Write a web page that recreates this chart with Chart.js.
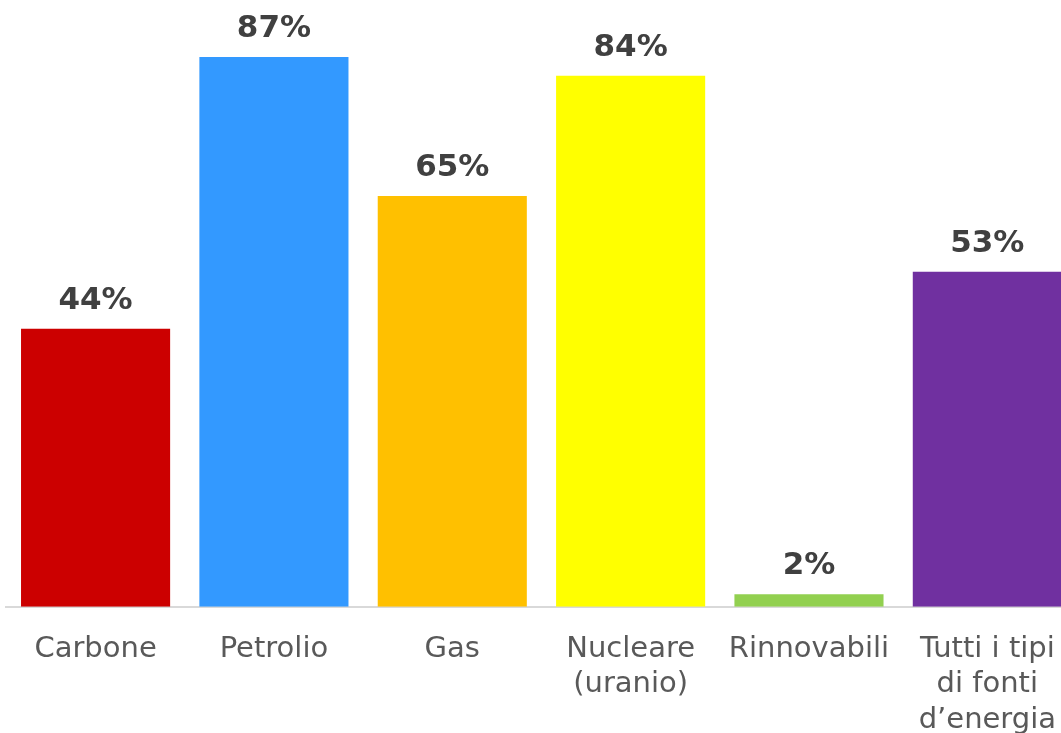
<!DOCTYPE html>
<html><head><meta charset="utf-8">
<script src="https://cdn.jsdelivr.net/npm/chart.js@4/dist/chart.umd.min.js"></script>
<style>
html,body{margin:0;padding:0;background:#fff;overflow:hidden;}
#wrap{width:1061px;height:733px;overflow:hidden;position:relative;}
canvas{display:block;}
</style></head>
<body>
<div id="wrap"><canvas id="c" width="1081" height="763"></canvas></div>
<script>
const categories = [["Carbone"],["Petrolio"],["Gas"],["Nucleare","(uranio)"],["Rinnovabili"],["Tutti i tipi","di fonti","d\u2019energia"]];
const values = [44, 87, 65, 84, 2, 53];
const barColors = ["#CC0000","#3399FF","#FFC000","#FFFF00","#92D050","#7030A0"];

const labelPlugin = {
  id:'valLabels',
  afterDatasetsDraw(chart){
    const ctx = chart.ctx;
    const meta = chart.getDatasetMeta(0);
    ctx.save();
    ctx.font = 'bold 31px "DejaVu Sans", Verdana, sans-serif';
    ctx.fillStyle = '#404040';
    ctx.textAlign = 'center';
    ctx.textBaseline = 'middle';
    meta.data.forEach((bar,i)=>{
      ctx.fillText(values[i] + '%', bar.x, bar.y - 28);
    });
    ctx.restore();
  }
};

new Chart(document.getElementById('c'), {
  type:'bar',
  data:{labels:categories, datasets:[{data:values, backgroundColor:barColors, borderWidth:0, barPercentage:0.836, categoryPercentage:1}]},
  options:{
    responsive:false, animation:false,
    layout:{padding:{left:6.4, right:0, top:0, bottom:0}},
    plugins:{legend:{display:false}, tooltip:{enabled:false}},
    scales:{
      y:{display:false, min:0, max:96},
      x:{
        grid:{display:false, drawTicks:false},
        border:{display:true, color:'#d9d9d9', width:2},
        ticks:{color:'#595959', font:{family:'"DejaVu Sans", Verdana, sans-serif', size:29, lineHeight:1.22}, padding:25, maxRotation:0, autoSkip:false}
      }
    }
  },
  plugins:[labelPlugin]
});
</script>
</body></html>
